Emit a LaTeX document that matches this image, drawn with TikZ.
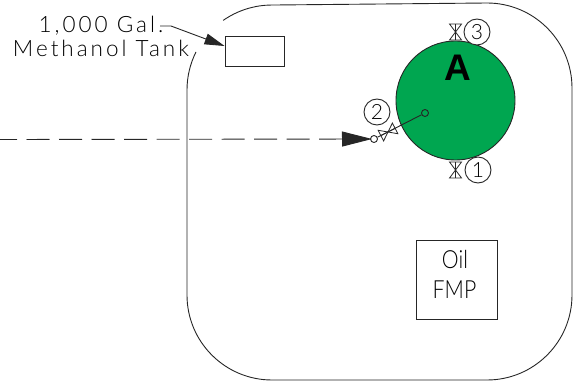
\documentclass[tikz,border=0pt]{standalone}
\usepackage{fontspec}
\usetikzlibrary{arrows.meta}
\setmainfont{Lato Light}
\newfontfamily\boldA{Liberation Sans Bold}
\definecolor{tankgreen}{HTML}{00A650}
\definecolor{inkc}{HTML}{262626}
\tikzset{
  x=1pt,y=1pt,
  ln/.style={draw=inkc,line width=0.9pt},
  ball/.style={circle,draw=inkc,line width=0.9pt,minimum size=26pt,inner sep=0pt,font=\fontsize{21}{21}\selectfont,text=black,fill=white},
  port/.style={circle,draw=inkc,line width=0.9pt,minimum size=7pt,inner sep=0pt},
  cad/.style={font=\fontsize{22.5}{22.5}\selectfont\addfontfeatures{LetterSpace=13.3},inner sep=0pt,anchor=base,text=black},
  boxlabel/.style={font=\fontsize{25}{25}\selectfont,inner sep=0pt,anchor=base,text=black},
  hourglass/.pic={
    \draw[ln,line width=0.8pt] (-6,-8)--(6,-8)--(-6,8)--(6,8)--cycle;
    \draw[ln,line width=0.8pt] (0,-8)--(0,8);
  },
}
\begin{document}
\begin{tikzpicture}
\useasboundingbox (0,0) rectangle (574,381);
% building outline
\draw[ln] (223.2,360.6) arc[start angle=125,end angle=90,radius=85] -- (487,378)
  arc[start angle=90,end angle=0,radius=85] -- (572,86)
  arc[start angle=0,end angle=-90,radius=85] -- (272,1)
  arc[start angle=270,end angle=180,radius=85] -- (187,291)
  arc[start angle=180,end angle=153.4,radius=85];
% vessel A
\node[circle,draw=inkc,line width=0.9pt,fill=tankgreen,minimum size=119pt,inner sep=0pt] (A) at (455.5,280.5) {};
\node[font=\boldA\fontsize{37}{37}\selectfont,text=black,inner sep=0pt,anchor=base] (Alabel) at (457.5,300) {A};
% valves on vessel
\pic at (455.5,349) {hourglass};
\pic at (455.5,211) {hourglass};
\node[ball] (n3) at (477,349) {3};
\node[ball] (n1) at (478,211) {1};
\node[ball] (n2) at (377,269) {2};
% nozzle line
\node[port] (p1) at (425,268) {};
\node[port] (p2) at (374,242) {};
\draw[ln] (p1) -- (p2);
\pic[rotate=-63] at (388,249) {hourglass};
% dashed inlet
\coordinate (west) at (0,241.5);
\draw[ln,dash pattern=on 23pt off 9.5pt,dash phase=6pt,shorten >=2pt,-{Triangle[length=30pt,width=15pt,fill=inkc]}] (west) -- (p2.center);
% methanol tank
\node[rectangle,draw=inkc,line width=0.9pt,minimum width=59pt,minimum height=30pt,inner sep=0pt] (tank) at (254.5,330) {};
\coordinate (tip) at (tank.west |- 0,335);
\node[cad] (l1) at (101,348) {1,000 Gal.};
\node[cad] (l2) at (101,324) {Methanol Tank};
\coordinate (lead) at (160,355);
\draw[ln,-{Triangle[length=20pt,width=11pt,fill=inkc]}] (lead) -- ++(11,0) -- (tip);
% oil FMP
\node[rectangle,draw=inkc,line width=0.9pt,minimum width=81pt,minimum height=79pt,inner sep=0pt] (fmp) at (456.5,101.5) {};
\node[boxlabel] at (455,112) {\scalebox{0.85}[1]{Oil}};
\node[boxlabel] at (454.5,82) {\scalebox{0.85}[1]{FMP}};
\end{tikzpicture}
\end{document}
